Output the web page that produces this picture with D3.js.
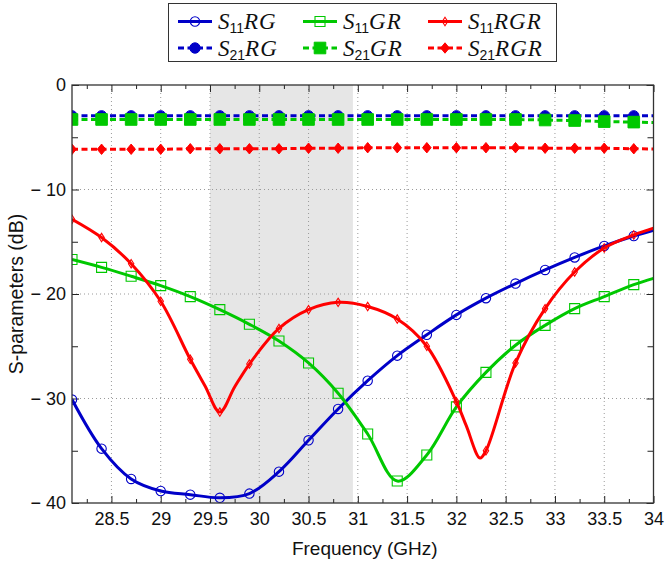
<!DOCTYPE html>
<html>
<head>
<meta charset="utf-8">
<script src="https://cdn.jsdelivr.net/npm/d3@7"></script>
<style>
  html, body { margin: 0; padding: 0; background: #fff; }
  svg { display: block; }
</style>
</head>
<body>
<svg id="chart" width="667" height="565"></svg>
<script>
// ---------- data ----------
const markerFreq = [28.1, 28.4, 28.7, 29.0, 29.3, 29.6, 29.9, 30.2, 30.5, 30.8,
                    31.1, 31.4, 31.7, 32.0, 32.3, 32.6, 32.9, 33.2, 33.5, 33.8];

const rgFreq = [28.1, 28.4, 28.7, 29.0, 29.3, 29.6, 29.9, 30.2, 30.5, 30.8,
                31.1, 31.4, 31.7, 32.0, 32.3, 32.6, 32.9, 33.2, 33.5, 33.8, 34.0];
const s11RG  = [-30.1, -34.8, -37.7, -38.85, -39.2, -39.5, -39.1, -37.0, -34.0, -31.0,
                -28.3, -25.9, -23.9, -22.0, -20.4, -19.0, -17.7, -16.5, -15.4, -14.45, -13.9];

const grFreq = [28.1, 28.4, 28.7, 29.0, 29.3, 29.6, 29.9, 30.2, 30.5, 30.8,
                31.1, 31.4, 31.7, 32.0, 32.3, 32.6, 32.9, 33.2, 33.5, 33.8, 34.0];
const s11GR  = [-16.7, -17.45, -18.3, -19.2, -20.25, -21.5, -22.9, -24.5, -26.6, -29.5,
                -33.4, -37.9, -35.4, -30.8, -27.5, -24.9, -23.0, -21.4, -20.25, -19.1, -18.5];

const rgrFreq = [28.1, 28.4, 28.7, 29.0, 29.3, 29.45, 29.6, 29.75, 29.9, 30.2, 30.5, 30.8,
                 31.1, 31.4, 31.7, 32.0, 32.1, 32.24, 32.3, 32.6, 32.9, 33.2, 33.5, 33.8, 34.0];
const s11RGR  = [-12.85, -14.6, -17.1, -20.7, -26.25, -28.8, -31.3, -28.9, -26.7, -23.3, -21.5, -20.8,
                 -21.2, -22.4, -25.0, -30.3, -32.6, -35.7, -35.0, -26.6, -21.4, -17.9, -15.6, -14.35, -13.7];

const s21Freq = [28.1, 28.4, 28.7, 29.0, 29.3, 29.6, 29.9, 30.2, 30.5, 30.8,
                 31.1, 31.4, 31.7, 32.0, 32.3, 32.6, 32.9, 33.2, 33.5, 33.8, 34.0];
const s21RG  = [-2.95, -2.95, -2.95, -2.95, -2.95, -2.95, -2.95, -2.95, -2.95, -2.95,
                -2.95, -2.95, -2.95, -2.95, -2.95, -2.95, -2.95, -2.95, -2.95, -2.95, -2.95];
const s21GR  = [-3.3, -3.3, -3.3, -3.3, -3.3, -3.3, -3.3, -3.3, -3.3, -3.3,
                -3.3, -3.3, -3.3, -3.3, -3.3, -3.3, -3.35, -3.4, -3.5, -3.55, -3.6];
const s21RGR = [-6.15, -6.15, -6.15, -6.15, -6.1, -6.1, -6.1, -6.1, -6.05, -6.05,
                -6.0, -6.0, -6.0, -6.0, -6.0, -6.0, -6.05, -6.05, -6.05, -6.1, -6.12];

const xTicks = [28.5, 29, 29.5, 30, 30.5, 31, 31.5, 32, 32.5, 33, 33.5, 34];
const xTickLabels = ["28.5", "29", "29.5", "30", "30.5", "31", "31.5", "32", "32.5", "33", "33.5", "34"];
const yTicks = [0, -10, -20, -30, -40];
const yTickLabels = ["0", "\u2212 10", "\u2212 20", "\u2212 30", "\u2212 40"];
const band = [29.5, 30.95];

const seriesNames = ["RG", "GR", "RGR"];
const xTitle = "Frequency (GHz)";
const yTitle = "S-parameters (dB)";

// ---------- layout ----------
const svg = d3.select("#chart");
const L = 72, R = 653.5, T = 85, B = 503;
const x = d3.scaleLinear().domain([28.1, 34]).range([L, R]);
const y = d3.scaleLinear().domain([-40, 0]).range([B, T]);

const BLUE = "#0000c8", GREEN = "#00c800", RED = "#ff0000";
const sansFont = "'Liberation Sans', Arial, Helvetica, sans-serif";
const serifFont = "'Liberation Serif', 'Times New Roman', serif";

// clip
svg.append("defs").append("clipPath").attr("id", "clip")
  .append("rect").attr("x", L).attr("y", T).attr("width", R - L).attr("height", B - T);

// shaded band
svg.append("rect")
  .attr("x", x(band[0])).attr("y", T)
  .attr("width", x(band[1]) - x(band[0])).attr("height", B - T)
  .attr("fill", "#e6e6e6");

// grid
const grid = svg.append("g").attr("stroke", "#9a9a9a").attr("stroke-width", 1)
  .attr("stroke-dasharray", "1,3");
xTicks.filter(v => v < 34).forEach(v => {
  grid.append("line").attr("x1", x(v)).attr("x2", x(v)).attr("y1", T).attr("y2", B);
});
yTicks.filter(v => v > -40 && v < 0).forEach(v => {
  grid.append("line").attr("x1", L).attr("x2", R).attr("y1", y(v)).attr("y2", y(v));
});

// axes (inward ticks)
const xMinor = d3.range(28.25, 34, 0.5);
const yMinor = [-5, -15, -25, -35];
const labelX = d => xTickLabels[xTicks.indexOf(d)];
const labelY = d => yTickLabels[yTicks.indexOf(d)];

function styleAxis(g) {
  g.select(".domain").remove();
  g.selectAll("line").attr("stroke", "#222").attr("stroke-width", 1);
  g.selectAll("text").attr("font-family", sansFont).attr("font-size", 18).attr("fill", "#111");
}
svg.append("g").attr("transform", `translate(0,${B})`)
  .call(d3.axisBottom(x).tickValues(xTicks).tickFormat(labelX).tickSizeInner(-7).tickSizeOuter(0).tickPadding(9))
  .call(styleAxis);
svg.append("g").attr("transform", `translate(0,${B})`)
  .call(d3.axisBottom(x).tickValues(xMinor).tickFormat("").tickSizeInner(-4).tickSizeOuter(0))
  .call(styleAxis);
svg.append("g").attr("transform", `translate(0,${T})`)
  .call(d3.axisTop(x).tickValues(xTicks).tickFormat("").tickSizeInner(-7).tickSizeOuter(0))
  .call(styleAxis);
svg.append("g").attr("transform", `translate(0,${T})`)
  .call(d3.axisTop(x).tickValues(xMinor).tickFormat("").tickSizeInner(-4).tickSizeOuter(0))
  .call(styleAxis);
svg.append("g").attr("transform", `translate(${L},0)`)
  .call(d3.axisLeft(y).tickValues(yTicks).tickFormat(labelY).tickSizeInner(-7).tickSizeOuter(0).tickPadding(6))
  .call(styleAxis);
svg.append("g").attr("transform", `translate(${L},0)`)
  .call(d3.axisLeft(y).tickValues(yMinor).tickFormat("").tickSizeInner(-6).tickSizeOuter(0))
  .call(styleAxis);
svg.append("g").attr("transform", `translate(${R},0)`)
  .call(d3.axisRight(y).tickValues(yTicks).tickFormat("").tickSizeInner(-7).tickSizeOuter(0))
  .call(styleAxis);
svg.append("g").attr("transform", `translate(${R},0)`)
  .call(d3.axisRight(y).tickValues(yMinor).tickFormat("").tickSizeInner(-6).tickSizeOuter(0))
  .call(styleAxis);

// axis titles
svg.append("text").attr("x", (L + R) / 2 + 2).attr("y", 555)
  .attr("text-anchor", "middle").attr("font-family", sansFont).attr("font-size", 19)
  .attr("fill", "#111").text(xTitle);
svg.append("text").attr("transform", `translate(23,${(T + B) / 2}) rotate(-90)`)
  .attr("text-anchor", "middle").attr("font-family", sansFont).attr("font-size", 19.5)
  .attr("fill", "#111").text(yTitle);

// ---------- markers ----------
function markerPath(kind, filled) {
  if (kind === "circle") return d3.symbol().type(d3.symbolCircle).size(Math.PI * (filled ? 5.2 : 4.7) ** 2)();
  if (kind === "square") { const h = filled ? 5.8 : 5; return `M${-h},${-h}H${h}V${h}H${-h}Z`; }
  const w = filled ? 4.3 : 2.7, h = filled ? 5.2 : 4.2;
  return `M0,${-h}L${w},0L0,${h}L${-w},0Z`;
}
function drawMarker(g, cx, cy, kind, color, filled) {
  g.append("path").attr("d", markerPath(kind, filled))
    .attr("transform", `translate(${cx},${cy})`)
    .attr("fill", filled ? color : "none")
    .attr("stroke", color).attr("stroke-width", filled ? 1 : 1.1);
}
const isMarker = f => markerFreq.some(m => Math.abs(m - f) < 1e-6);

const plot = svg.append("g").attr("clip-path", "url(#clip)");
const smooth = d3.line().x(d => x(d[0])).y(d => y(d[1])).curve(d3.curveCatmullRom.alpha(0.5));
const straight = d3.line().x(d => x(d[0])).y(d => y(d[1]));

const s11 = [
  { f: rgFreq, v: s11RG, color: BLUE, kind: "circle" },
  { f: grFreq, v: s11GR, color: GREEN, kind: "square" },
  { f: rgrFreq, v: s11RGR, color: RED, kind: "diamond" }
];
const s21 = [
  { f: s21Freq, v: s21RG, color: BLUE, kind: "circle" },
  { f: s21Freq, v: s21GR, color: GREEN, kind: "square" },
  { f: s21Freq, v: s21RGR, color: RED, kind: "diamond" }
];

s11.forEach(s => {
  const pts = s.f.map((f, i) => [f, s.v[i]]);
  plot.append("path").attr("d", smooth(pts)).attr("fill", "none")
    .attr("stroke", s.color).attr("stroke-width", 3);
  pts.filter(p => isMarker(p[0])).forEach(p => drawMarker(plot, x(p[0]), y(p[1]), s.kind, s.color, false));
});
s21.forEach(s => {
  const pts = s.f.map((f, i) => [f, s.v[i]]);
  plot.append("path").attr("d", straight(pts)).attr("fill", "none")
    .attr("stroke", s.color).attr("stroke-width", 3).attr("stroke-dasharray", "6,3.5");
  pts.filter(p => isMarker(p[0])).forEach(p => drawMarker(plot, x(p[0]), y(p[1]), s.kind, s.color, true));
});

// frame
svg.append("rect").attr("x", L).attr("y", T).attr("width", R - L).attr("height", B - T)
  .attr("fill", "none").attr("stroke", "#333").attr("stroke-width", 1.3);

// ---------- legend ----------
const lg = svg.append("g");
lg.append("rect").attr("x", 168.5).attr("y", 3.5).attr("width", 388).attr("height", 58)
  .attr("fill", "#fff").attr("stroke", "#333").attr("stroke-width", 1);
const colX = [178, 303, 428];
const rowY = [21.5, 48];
const legendDefs = [
  [s11[0], "11", seriesNames[0]], [s11[1], "11", seriesNames[1]], [s11[2], "11", seriesNames[2]],
  [s21[0], "21", seriesNames[0]], [s21[1], "21", seriesNames[1]], [s21[2], "21", seriesNames[2]]
];
legendDefs.forEach((d, i) => {
  const row = Math.floor(i / 3), col = i % 3;
  const s = d[0], filled = row === 1;
  const x0 = colX[col], yy = rowY[row];
  const ln = lg.append("line").attr("x1", x0).attr("x2", x0 + 34).attr("y1", yy).attr("y2", yy)
    .attr("stroke", s.color).attr("stroke-width", 3);
  if (filled) ln.attr("stroke-dasharray", "6,3.5");
  drawMarker(lg, x0 + 17, yy, s.kind, s.color, filled);
  const t = lg.append("text").attr("x", x0 + 40).attr("y", yy + 7.5).attr("fill", "#111");
  t.append("tspan").attr("font-family", serifFont).attr("font-style", "italic").attr("font-size", 23).text("S");
  t.append("tspan").attr("font-family", sansFont).attr("font-size", 14).attr("dy", 4).text(d[1]);
  t.append("tspan").attr("font-family", serifFont).attr("font-style", "italic").attr("font-size", 23)
    .attr("dy", -4).attr("letter-spacing", 1).text(d[2]);
});
</script>
</body>
</html>
